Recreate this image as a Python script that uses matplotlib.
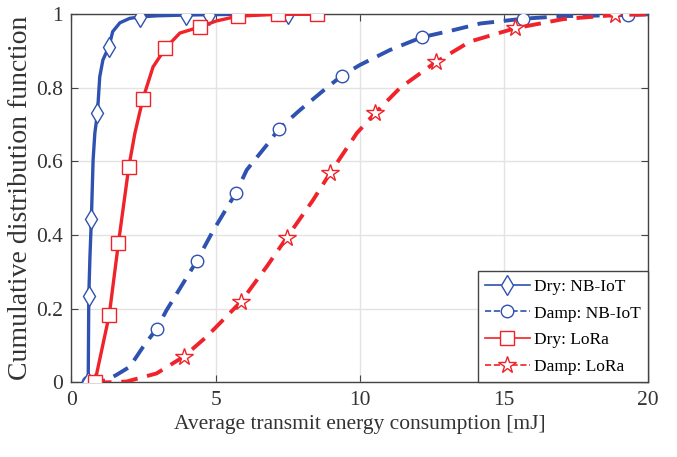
import matplotlib
matplotlib.use("Agg")
import matplotlib.pyplot as plt
from matplotlib.lines import Line2D

plt.rcParams['font.family'] = ['Liberation Serif', 'DejaVu Serif']

# CDF curves (x in mJ, y = CDF)
dry_nb_x = [0.58, 0.6, 0.64, 0.69, 0.75, 0.81, 0.9, 0.98, 1.09, 1.3, 1.43, 1.68, 2.02, 2.37, 3.0, 3.99, 4.77, 6.0, 7.5]
dry_nb_y = [0, 0.234, 0.34, 0.444, 0.604, 0.677, 0.731, 0.83, 0.876, 0.912, 0.953, 0.977, 0.989, 0.993, 0.996, 0.998, 0.999, 1.0, 1.0]
dry_nb_mk = [0, 1, 3, 6, 9, 13, 15, 16, 18]

damp_nb_x = [0.58, 1.2, 1.56, 2.02, 2.49, 2.95, 3.3, 4.35, 4.9, 5.7, 6.08, 6.83, 7.2, 7.93, 8.85, 9.38,
             10.0, 11.05, 12.15, 13.25, 14.18, 15.67, 17.06, 19.3, 20.0]
damp_nb_y = [0.0, 0.005, 0.02, 0.042, 0.097, 0.145, 0.196, 0.33, 0.41, 0.514, 0.577, 0.65, 0.689, 0.74, 0.80, 0.833,
             0.862, 0.903, 0.9375, 0.957, 0.975, 0.988, 0.995, 0.998, 1.0]
damp_nb_mk = [0, 5, 7, 9, 12, 15, 18, 21, 23]

dry_lora_x = [0.81, 1.31, 1.63, 1.99, 2.2, 2.48, 2.83, 3.26, 3.76, 4.47, 5.03, 5.78, 7.15, 8.52]
dry_lora_y = [0, 0.183, 0.379, 0.586, 0.677, 0.771, 0.857, 0.908, 0.949, 0.966, 0.982, 0.995, 1.0, 1.0]
dry_lora_mk = [0, 1, 2, 3, 5, 7, 9, 11, 12, 13]

damp_lora_x = [0.81, 1.3, 1.91, 2.95, 3.9, 4.69, 5.88, 6.77, 7.47, 8.38, 8.97, 9.9, 10.53, 11.4, 12.64,
               13.83, 15.39, 17.07, 18.86, 20.0]
damp_lora_y = [0, 0, 0.002, 0.024, 0.07, 0.124, 0.219, 0.314, 0.393, 0.495, 0.568, 0.677, 0.731, 0.80, 0.87,
               0.926, 0.962, 0.987, 0.998, 1.0]
damp_lora_mk = [0, 4, 6, 8, 10, 12, 14, 16, 18]

labels = ['Dry: NB-IoT', 'Damp: NB-IoT', 'Dry: LoRa', 'Damp: LoRa']

blue = '#2f52b0'
red = '#f0222a'

fig = plt.figure(figsize=(6.77, 4.57), dpi=100)
ax = fig.add_axes([0.1056, 0.1635, 0.8514, 0.8052])

ax.plot(dry_nb_x, dry_nb_y, '-', color=blue, lw=2.4, marker='d', ms=10, mfc='white',
        mec=blue, mew=1.0, markevery=dry_nb_mk, zorder=4)
ax.plot(damp_nb_x, damp_nb_y, '--', color=blue, lw=2.8, dashes=(4.3, 2.5), marker='o', ms=9, mfc='white',
        mec=blue, mew=1.0, markevery=damp_nb_mk, zorder=3)
ax.plot(dry_lora_x, dry_lora_y, '-', color=red, lw=2.4, marker='s', ms=9.5, mfc='white',
        mec=red, mew=1.0, markevery=dry_lora_mk, zorder=4)
ax.plot(damp_lora_x, damp_lora_y, '--', color=red, lw=2.8, dashes=(4.3, 2.5), marker='*', ms=13, mfc='white',
        mec=red, mew=1.0, markevery=damp_lora_mk, zorder=3)

ax.set_xlim(0, 20)
ax.set_ylim(0, 1)
ax.set_xticks([0, 5, 10, 15, 20])
ax.set_yticks([0, 0.2, 0.4, 0.6, 0.8, 1])
ax.set_yticklabels(['0', '0.2', '0.4', '0.6', '0.8', '1'])
ax.grid(True, color='#e3e3e3', lw=1.0)
ax.set_axisbelow(True)
ax.tick_params(direction='in', top=True, right=True, labelsize=15.5, length=5, color='#444444', pad=6)
for s in ax.spines.values():
    s.set_color('#444444')
    s.set_linewidth(1.0)

ax.set_xlabel('Average transmit energy consumption [mJ]', fontsize=15.5, color='#333333', labelpad=4)
ax.set_ylabel('Cumulative distribution function', fontsize=20, color='#333333', labelpad=2)
for t in ax.get_xticklabels() + ax.get_yticklabels():
    t.set_color('#333333')

handles = [
    Line2D([], [], color=blue, lw=1.2, ls='-', marker='d', ms=10, mfc='white', mec=blue),
    Line2D([], [], color=blue, lw=1.2, ls='--', marker='o', ms=9, mfc='white', mec=blue),
    Line2D([], [], color=red, lw=1.2, ls='-', marker='s', ms=9.5, mfc='white', mec=red),
    Line2D([], [], color=red, lw=1.2, ls='--', marker='*', ms=13, mfc='white', mec=red),
]
leg = ax.legend(handles, labels, loc='lower right', borderaxespad=0, fontsize=12.5, fancybox=False,
                framealpha=1, edgecolor='#444444', handlelength=2.6, handletextpad=0.25,
                labelspacing=0.62, borderpad=0.4)
leg.get_frame().set_linewidth(1.0)

fig.savefig('out.png', dpi=100)
